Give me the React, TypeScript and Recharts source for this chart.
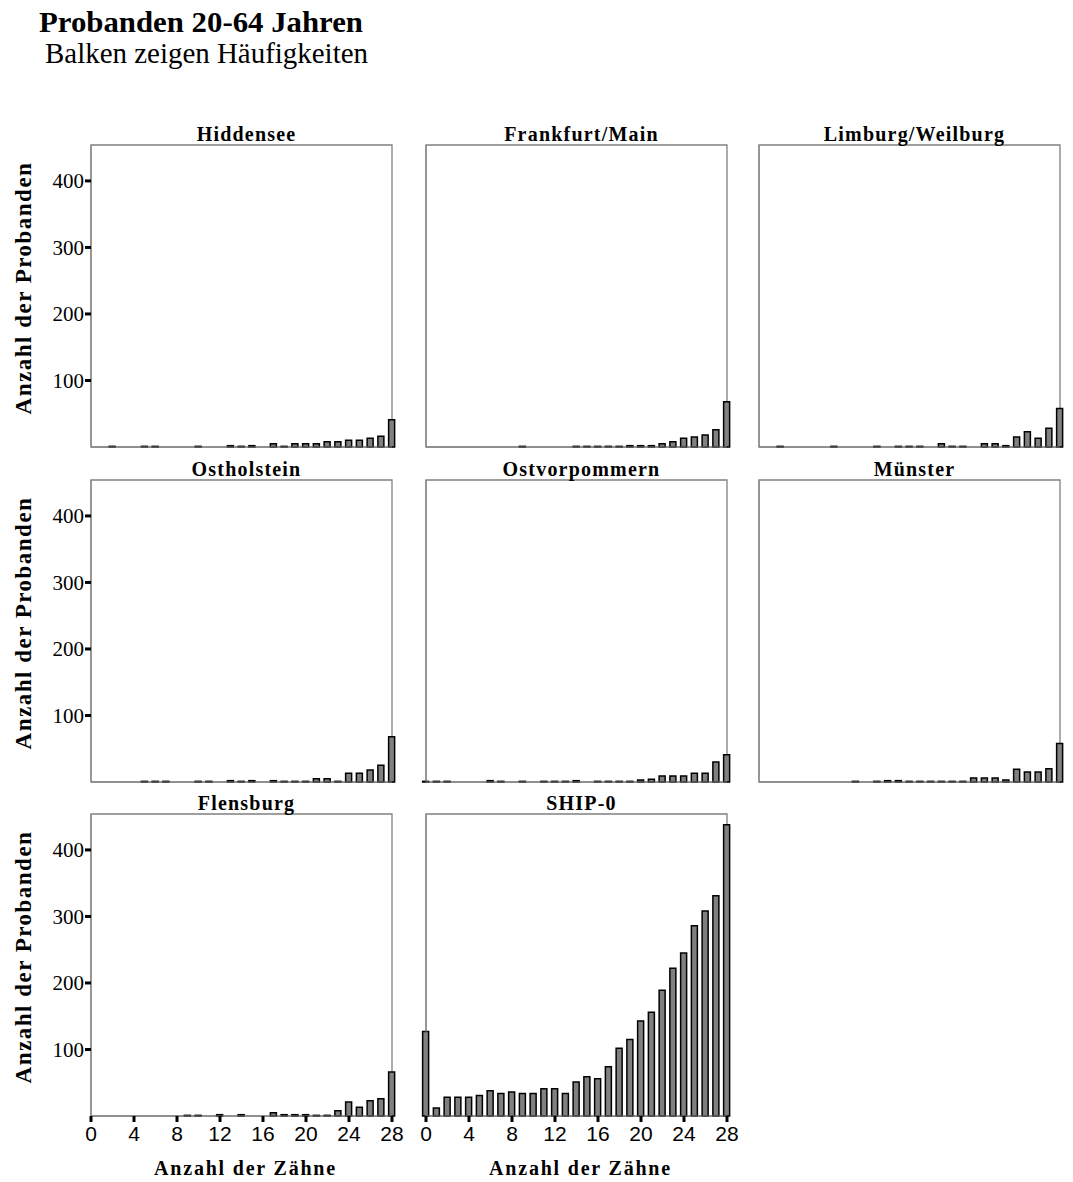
import { BarChart, Bar, XAxis, YAxis, ReferenceArea } from 'recharts'

// Anzahl der Zähne (0..28)
const zaehne = [0, 1, 2, 3, 4, 5, 6, 7, 8, 9, 10, 11, 12, 13, 14, 15, 16, 17, 18, 19, 20, 21, 22, 23, 24, 25, 26, 27, 28]

// Häufigkeiten je Region
const hiddensee = [0, 0, 1, 0, 0, 1, 1, 0, 0, 0, 1, 0, 0, 2, 1, 2, 0, 5, 1, 5, 5, 5, 8, 8, 10, 10, 13, 16, 41]
const frankfurt = [0, 0, 0, 0, 0, 0, 0, 0, 0, 1, 0, 0, 0, 0, 1, 1, 1, 1, 1, 2, 2, 2, 5, 8, 13, 15, 18, 26, 68]
const limburg = [0, 0, 1, 0, 0, 0, 0, 1, 0, 0, 0, 1, 0, 1, 1, 1, 0, 5, 1, 1, 0, 5, 5, 2, 15, 23, 13, 28, 58]
const ostholstein = [0, 0, 0, 0, 0, 1, 1, 1, 0, 0, 1, 1, 0, 2, 1, 2, 0, 2, 1, 1, 1, 5, 5, 1, 13, 13, 18, 25, 68]
const ostvorpommern = [1, 1, 1, 0, 0, 0, 2, 1, 0, 1, 0, 1, 1, 1, 2, 0, 1, 1, 1, 1, 3, 4, 9, 9, 9, 13, 13, 30, 41]
const muenster = [0, 0, 0, 0, 0, 0, 0, 0, 0, 1, 0, 1, 2, 2, 1, 1, 1, 1, 1, 1, 6, 6, 6, 3, 19, 15, 15, 20, 58]
const flensburg = [0, 0, 0, 0, 0, 0, 0, 0, 0, 1, 1, 0, 2, 0, 2, 0, 0, 5, 2, 2, 2, 1, 1, 8, 21, 13, 23, 26, 66]
const ship0 = [127, 12, 28, 28, 28, 31, 38, 34, 36, 34, 34, 41, 41, 34, 51, 59, 56, 74, 102, 115, 143, 156, 189, 222, 245, 286, 308, 331, 438]

const xTicks = [0, 4, 8, 12, 16, 20, 24, 28]
const yTicks = [100, 200, 300, 400]

const panels = [
    { title: 'Hiddensee', values: hiddensee, col: 0, row: 0 },
    { title: 'Frankfurt/Main', values: frankfurt, col: 1, row: 0 },
    { title: 'Limburg/Weilburg', values: limburg, col: 2, row: 0 },
    { title: 'Ostholstein', values: ostholstein, col: 0, row: 1 },
    { title: 'Ostvorpommern', values: ostvorpommern, col: 1, row: 1 },
    { title: 'Münster', values: muenster, col: 2, row: 1 },
    { title: 'Flensburg', values: flensburg, col: 0, row: 2 },
    { title: 'SHIP-0', values: ship0, col: 1, row: 2 },
]

const colX = [91, 426, 759]
const rowTop = [145, 480, 814]
const PW = 301
const PH = 302
const YMAX = 454

const serif = '"Liberation Serif", "Times New Roman", serif'
const sans = '"Liberation Sans", Arial, sans-serif'

// y tick labels are serif in the original, x tick labels sans
function YTick({ x, y, payload }: any) {
    return (
        <text x={x} y={y} dy="0.35em" textAnchor="end" fontFamily={serif} fontSize={21} fill="#000">
            {payload.value}
        </text>
    )
}

function XTick({ x, y, payload }: any) {
    return (
        <text x={x} y={y} dy="0.72em" textAnchor="middle" fontFamily={sans} fontSize={21} fill="#000">
            {payload.value}
        </text>
    )
}

function Panel({ values, col, row }: any) {
    const data = zaehne.map((n, i) => ({ n, v: values[i] }))
    const showY = col === 0
    const showX = row === 2
    return (
        <div style={{ position: 'absolute', left: colX[col] - 60, top: rowTop[row] - 10 }}>
            <BarChart
                width={60 + PW + 22}
                height={10 + PH + 40}
                data={data}
                margin={{ top: 10, right: 22, bottom: 0, left: 0 }}
            >
                <ReferenceArea
                    x1={0}
                    x2={28}
                    y1={0}
                    y2={YMAX}
                    fill="none"
                    stroke="#808080"
                    strokeWidth={1.3}
                    ifOverflow="visible"
                />
                <XAxis
                    type="number"
                    dataKey="n"
                    domain={[0, 28]}
                    ticks={xTicks}
                    height={40}
                    tickSize={6}
                    tickMargin={4}
                    axisLine={{ stroke: '#808080' }}
                    tickLine={{ stroke: '#000', strokeWidth: 3 }}
                    tick={showX ? <XTick /> : false}
                />
                <YAxis
                    type="number"
                    domain={[0, YMAX]}
                    ticks={yTicks}
                    width={60}
                    tickSize={6}
                    tickMargin={1}
                    axisLine={{ stroke: '#808080' }}
                    tickLine={{ stroke: '#000', strokeWidth: 3 }}
                    tick={showY ? <YTick /> : false}
                />
                <Bar
                    dataKey="v"
                    fill="#808080"
                    stroke="#000"
                    strokeWidth={1.5}
                    barSize={6}
                    isAnimationActive={false}
                />
            </BarChart>
        </div>
    )
}

export default function App() {
    return (
        <div style={{ position: 'absolute', left: 0, top: 0, width: 1073, height: 1182, background: '#fff' }}>
            {panels.map((p) => (
                <Panel key={p.title} values={p.values} col={p.col} row={p.row} />
            ))}

            <svg
                width={1073}
                height={1182}
                style={{ position: 'absolute', left: 0, top: 0, pointerEvents: 'none' }}
            >
                <text x={39} y={32} fontFamily={serif} fontWeight="bold" fontSize={29} textLength={324} lengthAdjust="spacingAndGlyphs">
                    Probanden 20-64 Jahren
                </text>
                <text x={45} y={63} fontFamily={serif} fontSize={30} textLength={323} lengthAdjust="spacingAndGlyphs">
                    Balken zeigen Häufigkeiten
                </text>

                {panels.map((p) => (
                    <text
                        key={'t' + p.title}
                        x={colX[p.col] + PW / 2 + 5}
                        y={rowTop[p.row] - 4}
                        textAnchor="middle"
                        fontFamily={serif}
                        fontWeight="bold"
                        fontSize={20}
                        letterSpacing={1.2}
                    >
                        {p.title}
                    </text>
                ))}

                {rowTop.map((t) => (
                    <text
                        key={'y' + t}
                        transform={`translate(31,${t + PH / 2 - 8}) rotate(-90)`}
                        textAnchor="middle"
                        fontFamily={serif}
                        fontWeight="bold"
                        fontSize={23}
                        letterSpacing={1.5}
                    >
                        Anzahl der Probanden
                    </text>
                ))}

                {[0, 1].map((c) => (
                    <text
                        key={'x' + c}
                        x={colX[c] + PW / 2 + 4}
                        y={1175}
                        textAnchor="middle"
                        fontFamily={serif}
                        fontWeight="bold"
                        fontSize={20}
                        letterSpacing={1.8}
                    >
                        Anzahl der Zähne
                    </text>
                ))}
            </svg>
        </div>
    )
}
